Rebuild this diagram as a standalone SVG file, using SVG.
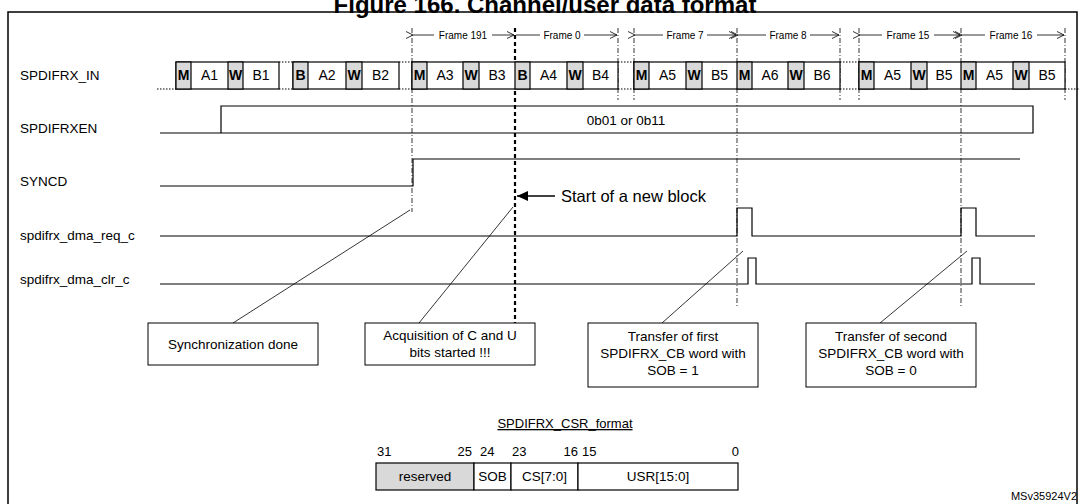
<svg xmlns="http://www.w3.org/2000/svg" width="1079" height="504" viewBox="0 0 1079 504">
<style>
text{font-family:"Liberation Sans",Arial,sans-serif;fill:#000}
.lbl{font-size:13.5px}
.cell{font-size:14px;text-anchor:middle}
.bold{font-weight:bold}
.g{fill:#d9d9d9;stroke:#000;stroke-width:1.2}
.w{fill:#fff;stroke:#000;stroke-width:1.2}
.sig{fill:none;stroke:#000;stroke-width:1.2}
.dd{stroke:#000;stroke-width:0.8;stroke-dasharray:5,2,1,2}
.dot{stroke:#000;stroke-width:1.2;stroke-dasharray:1.5,1.5}
.fr{font-size:10px;text-anchor:middle}
.box{fill:#fff;stroke:#000;stroke-width:1}
.ct{font-size:13.5px;text-anchor:middle}
</style>
<defs>
<marker id="ah" markerWidth="8" markerHeight="8" refX="7" refY="4" orient="auto" markerUnits="userSpaceOnUse"><path d="M0,0.5 L7,4 L0,7.5" fill="none" stroke="#000" stroke-width="0.8"/></marker>
<marker id="big" markerWidth="12" markerHeight="10" refX="11" refY="5" orient="auto" markerUnits="userSpaceOnUse"><path d="M0,0 L11,5 L0,10 Z" fill="#000"/></marker>
</defs>
<text x="545" y="13" font-size="24" font-weight="bold" text-anchor="middle">Figure 166. Channel/user data format</text>
<rect x="8" y="12" width="1069" height="500" fill="none" stroke="#000" stroke-width="1.5"/>

<g id="labels">
<text class="lbl" x="20" y="80">SPDIFRX_IN</text>
<text class="lbl" x="20" y="133">SPDIFRXEN</text>
<text class="lbl" x="20" y="186">SYNCD</text>
<text class="lbl" x="20" y="240">spdifrx_dma_req_c</text>
<text class="lbl" x="20" y="284">spdifrx_dma_clr_c</text>
</g>

<g id="guides">
<line class="dd" x1="412" y1="28" x2="412" y2="212"/>
<line x1="515" y1="28" x2="515" y2="352" stroke="#000" stroke-width="2.2" stroke-dasharray="4,3"/>
<line class="dd" x1="618" y1="28" x2="618" y2="100"/>
<line class="dd" x1="634" y1="28" x2="634" y2="100"/>
<line class="dd" x1="737" y1="28" x2="737" y2="306"/>
<line class="dd" x1="840" y1="28" x2="840" y2="100"/>
<line class="dd" x1="859" y1="28" x2="859" y2="100"/>
<line class="dd" x1="961" y1="28" x2="961" y2="306"/>
<line class="dd" x1="1065" y1="28" x2="1065" y2="100"/>
</g>

<g id="frames">
<line x1="413" y1="35" x2="514" y2="35" stroke="#000" stroke-width="0.8" marker-start="url(#ah)" marker-end="url(#ah)"/>
<line x1="516" y1="35" x2="617" y2="35" stroke="#000" stroke-width="0.8" marker-end="url(#ah)"/>
<line x1="635" y1="35" x2="736" y2="35" stroke="#000" stroke-width="0.8" marker-start="url(#ah)" marker-end="url(#ah)"/>
<line x1="738" y1="35" x2="839" y2="35" stroke="#000" stroke-width="0.8" marker-start="url(#ah)" marker-end="url(#ah)"/>
<line x1="860" y1="35" x2="960" y2="35" stroke="#000" stroke-width="0.8" marker-start="url(#ah)" marker-end="url(#ah)"/>
<line x1="962" y1="35" x2="1064" y2="35" stroke="#000" stroke-width="0.8" marker-start="url(#ah)" marker-end="url(#ah)"/>
<g fill="#fff">
<rect x="434" y="29" width="58" height="12"/><rect x="540" y="29" width="44" height="12"/>
<rect x="663" y="29" width="44" height="12"/><rect x="766" y="29" width="44" height="12"/>
<rect x="882" y="29" width="52" height="12"/><rect x="985" y="29" width="52" height="12"/>
</g>
<text class="fr" x="463" y="39">Frame 191</text>
<text class="fr" x="562" y="39">Frame 0</text>
<text class="fr" x="685" y="39">Frame 7</text>
<text class="fr" x="788" y="39">Frame 8</text>
<text class="fr" x="908" y="39">Frame 15</text>
<text class="fr" x="1011" y="39">Frame 16</text>
</g>

<g id="spdifrx_in">
<line class="dot" x1="157" y1="89" x2="176" y2="89"/>
<line class="dot" x1="279" y1="62" x2="293" y2="62"/><line class="dot" x1="279" y1="89" x2="293" y2="89"/>
<line class="dot" x1="399" y1="62" x2="412" y2="62"/><line class="dot" x1="399" y1="89" x2="412" y2="89"/>
<line class="dot" x1="618" y1="62" x2="634" y2="62"/><line class="dot" x1="618" y1="89" x2="634" y2="89"/>
<line class="dot" x1="840" y1="62" x2="859" y2="62"/><line class="dot" x1="840" y1="89" x2="859" y2="89"/>
<line class="dot" x1="1065" y1="89" x2="1079" y2="89"/>
<rect class="w" x="176" y="62" width="103" height="27"/>
<rect class="g" x="176" y="62" width="15" height="27"/><rect class="g" x="228" y="62" width="15" height="27"/>
<rect class="w" x="293" y="62" width="106" height="27"/>
<rect class="g" x="293" y="62" width="15" height="27"/><rect class="g" x="346" y="62" width="16" height="27"/>
<rect class="w" x="412" y="62" width="206" height="27"/>
<rect class="g" x="412" y="62" width="15" height="27"/><rect class="g" x="463" y="62" width="16" height="27"/>
<rect class="g" x="515" y="62" width="15" height="27"/><rect class="g" x="567" y="62" width="16" height="27"/>
<rect class="w" x="634" y="62" width="206" height="27"/>
<rect class="g" x="634" y="62" width="15" height="27"/><rect class="g" x="686" y="62" width="16" height="27"/>
<rect class="g" x="737" y="62" width="15" height="27"/><rect class="g" x="788" y="62" width="16" height="27"/>
<rect class="w" x="859" y="62" width="206" height="27"/>
<rect class="g" x="859" y="62" width="15" height="27"/><rect class="g" x="911" y="62" width="16" height="27"/>
<rect class="g" x="961" y="62" width="15" height="27"/><rect class="g" x="1013" y="62" width="16" height="27"/>
<g class="cell">
<text class="bold" x="183.5" y="80">M</text><text x="209.5" y="80">A1</text><text class="bold" x="235.5" y="80">W</text><text x="261" y="80">B1</text>
<text class="bold" x="300.5" y="80">B</text><text x="327" y="80">A2</text><text class="bold" x="354" y="80">W</text><text x="380.5" y="80">B2</text>
<text class="bold" x="419.5" y="80">M</text><text x="445" y="80">A3</text><text class="bold" x="471" y="80">W</text><text x="497" y="80">B3</text>
<text class="bold" x="522.5" y="80">B</text><text x="548.5" y="80">A4</text><text class="bold" x="575" y="80">W</text><text x="600.5" y="80">B4</text>
<text class="bold" x="641.5" y="80">M</text><text x="667.5" y="80">A5</text><text class="bold" x="694" y="80">W</text><text x="719.5" y="80">B5</text>
<text class="bold" x="744.5" y="80">M</text><text x="770" y="80">A6</text><text class="bold" x="796" y="80">W</text><text x="822" y="80">B6</text>
<text class="bold" x="866.5" y="80">M</text><text x="892.5" y="80">A5</text><text class="bold" x="919" y="80">W</text><text x="944" y="80">B5</text>
<text class="bold" x="968.5" y="80">M</text><text x="994.5" y="80">A5</text><text class="bold" x="1021" y="80">W</text><text x="1047" y="80">B5</text>
</g>
</g>

<g id="spdifrxen">
<path class="sig" d="M160,133 H221 V106 H1033 V133 H221"/>
<text class="lbl" x="626" y="125" text-anchor="middle">0b01 or 0b11</text>
</g>
<g id="syncd"><path class="sig" d="M160,186 H413 V159 H1020"/></g>
<g id="req"><path class="sig" d="M160,236 H737 V208 H752 V236 H961 V208 H976 V236 H1035"/></g>
<g id="clr"><path class="sig" d="M160,284 H748 V258 H756 V284 H972 V258 H980 V284 H1035"/></g>

<g id="connectors">
<line x1="555" y1="196" x2="517" y2="196" stroke="#000" stroke-width="1.5" marker-end="url(#big)"/>
<line x1="233" y1="323" x2="410" y2="210" stroke="#000" stroke-width="0.8"/>
<line x1="419" y1="323" x2="513" y2="207" stroke="#000" stroke-width="0.8"/>
<line x1="662" y1="323" x2="743" y2="251" stroke="#000" stroke-width="0.8"/>
<line x1="880" y1="323" x2="967" y2="251" stroke="#000" stroke-width="0.8"/>
</g>
<text x="561" y="202" font-size="16.5">Start of a new block</text>

<g id="c1"><rect class="box" x="148" y="323" width="170" height="42"/><text class="ct" x="233" y="349">Synchronization done</text></g>
<g id="c2"><rect class="box" x="365" y="323" width="170" height="42"/><text class="ct" x="450" y="340">Acquisition of C and U</text><text class="ct" x="450" y="357">bits started !!!</text></g>
<g id="c3"><rect class="box" x="588" y="323" width="170" height="64"/><text class="ct" x="673" y="341">Transfer of first</text><text class="ct" x="673" y="358">SPDIFRX_CB word with</text><text class="ct" x="673" y="375">SOB = 1</text></g>
<g id="c4"><rect class="box" x="806" y="323" width="170" height="64"/><text class="ct" x="891" y="341">Transfer of second</text><text class="ct" x="891" y="358">SPDIFRX_CB word with</text><text class="ct" x="891" y="375">SOB = 0</text></g>

<g id="csr">
<text x="565" y="428" font-size="13" text-anchor="middle" text-decoration="underline">SPDIFRX_CSR_format</text>
<g font-size="13">
<text x="377" y="456">31</text><text x="472" y="456" text-anchor="end">25</text>
<text x="480" y="456">24</text><text x="512" y="456">23</text>
<text x="578" y="456" text-anchor="end">16</text><text x="582" y="456">15</text>
<text x="739" y="456" text-anchor="end">0</text>
</g>
<rect class="g" x="376" y="463" width="98" height="27"/>
<rect class="w" x="474" y="463" width="37" height="27"/>
<rect class="w" x="511" y="463" width="67" height="27"/>
<rect class="w" x="578" y="463" width="160" height="27"/>
<g class="ct"><text x="425" y="481">reserved</text><text x="492.5" y="481">SOB</text><text x="544.5" y="481">CS[7:0]</text><text x="658" y="481">USR[15:0]</text></g>
</g>
<text x="1077" y="500" font-size="11" text-anchor="end">MSv35924V2</text>
</svg>
